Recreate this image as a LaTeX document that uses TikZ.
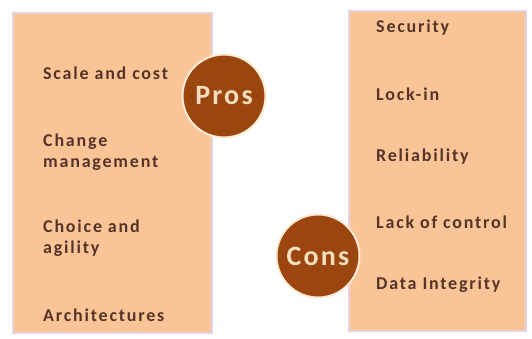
\documentclass[tikz,border=0pt]{standalone}
\usepackage{fontspec}
\setmainfont{Carlito}
\newfontfamily\itemfont[LetterSpace=10]{Carlito}
\newfontfamily\badgefont[LetterSpace=8]{Carlito}
\definecolor{peach}{RGB}{251,196,150}
\definecolor{edge}{RGB}{226,212,226}
\definecolor{brownc}{RGB}{154,70,14}
\definecolor{txt}{RGB}{84,52,40}
\definecolor{cream}{RGB}{246,222,190}
\begin{document}
\begin{tikzpicture}[x=1pt,y=-1pt,
  panel/.style={fill=peach,draw=edge,line width=1.5pt},
  item/.style={anchor=west,inner sep=0pt,text=txt,font=\itemfont\bfseries\fontsize{18}{21}\selectfont,align=left},
  badge/.style={circle,fill=brownc,draw=cream!60!white,line width=2pt,minimum size=83pt,inner sep=0pt,text=cream,font=\badgefont\bfseries\fontsize{28}{30}\selectfont}]
\useasboundingbox (0,0) rectangle (532,338);
\fill[white] (0,0) rectangle (532,338);
\node[panel,minimum width=199pt,minimum height=320pt,anchor=north west,inner sep=0pt] (left) at (12,12) {};
\node[panel,minimum width=177pt,minimum height=320pt,anchor=north west,inner sep=0pt] (right) at (348,10) {};
\node[badge] (pros) at (224,96) {Pros};
\node[badge] (cons) at (318,256) {Cons};
\node[item] (p1) at (43,73) {Scale and cost};
\node[item] (p2) at (43,152) {Change\\management};
\node[item] (p3) at (43,238) {Choice and\\agility};
\node[item] (p4) at (43,315) {Architectures};
\node[item] (c1) at (376,28) {Security};
\node[item] (c2) at (376,94) {Lock-in};
\node[item] (c3) at (376,157) {Reliability};
\node[item] (c4) at (376,222) {Lack of control};
\node[item] (c5) at (376,285) {Data Integrity};
\end{tikzpicture}
\end{document}
